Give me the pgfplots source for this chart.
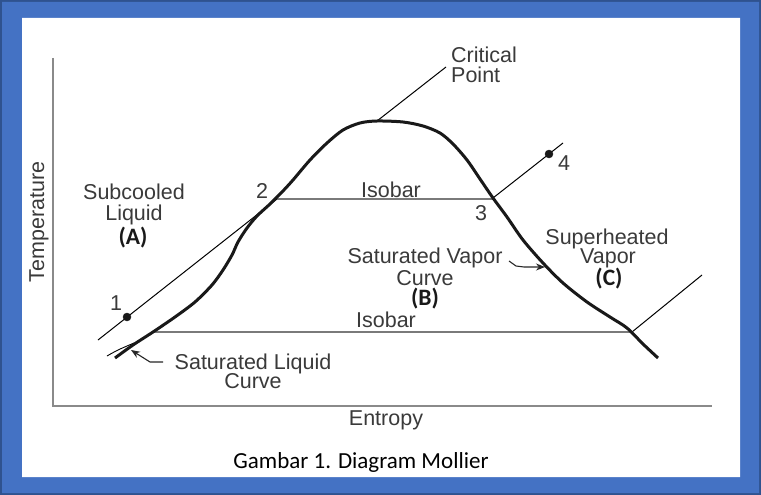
\documentclass[border=0pt]{standalone}
\usepackage{pgfplots}
\pgfplotsset{compat=1.18}
\usetikzlibrary{arrows.meta}
\usepackage{fontspec}
\setmainfont{Liberation Sans}
\newfontfamily\calibri{Carlito}
\definecolor{bordblue}{HTML}{4472C4}
\definecolor{bordedge}{HTML}{2F528F}
\definecolor{txt}{HTML}{3A3A3A}
\definecolor{thin}{HTML}{858585}
\definecolor{isob}{HTML}{7A7A7A}
\definecolor{axgray}{HTML}{8A8A8A}
\tikzset{
  lab/.style={anchor=base, inner sep=0pt, text=txt, font=\fontsize{21.5}{24}\selectfont},
  bl/.style={anchor=base, inner sep=0pt, text=black!90, font=\calibri\bfseries\fontsize{23.5}{26}\selectfont},
}
\begin{document}
\begin{tikzpicture}
\begin{axis}[
  scale only axis, width=761pt, height=495pt,
  xmin=0, xmax=761, ymin=0, ymax=495, y dir=reverse,
  axis lines=none, clip=true,
]
% frame
\addplot[fill=bordedge, draw=none] coordinates {(0,0)(761,0)(761,495)(0,495)(0,0)};
\addplot[fill=bordblue, draw=none] coordinates {(2,2)(759,2)(759,493)(2,493)(2,2)};
\addplot[fill=white, draw=none] coordinates {(22,18)(740,18)(740,477)(22,477)(22,18)};
% axes
\addplot[axgray, line width=1.5pt] coordinates {(53,58)(53,406)(712,406)};
% thin lines
\addplot[thin, line width=1.0pt] coordinates {(377,121)(446,67)};
\addplot[thin, line width=1.0pt] coordinates {(493,198)(563,143)};
\addplot[thin, line width=1.0pt] coordinates {(98,340)(277,199)};
\addplot[thin, line width=1.0pt] coordinates {(632,332)(702,275)};
\addplot[thin, line width=0.9pt, smooth] coordinates {(107,356)(118,350)(134,343)};
% isobars
\addplot[isob, line width=1.4pt] coordinates {(277,199)(493,199)};
\addplot[isob, line width=1.4pt] coordinates {(152,332)(632,332)};
% saturation dome
\addplot[black!90, line width=3pt, smooth] coordinates {
 (115,358)(133,345)(153,332)(175,317)(195,302)(212,285)(223,270)(232,255)
 (238,242)(247,228)(257,216)(270,204)(282,192)(293,180)(310,160)(327,143)(343,130)
 (360,123)(377,121)(403,122)(423,126)(440,133)(453,144)(467,160)(480,179)
 (493,198)(507,217)(523,240)(543,263)(563,283)(587,302)(610,317)(627,328)
 (643,344)(658,358)};
% points
\addplot[only marks, mark=*, mark size=4pt, black!90] coordinates {(127,317)(549,154)};
% arrows
\addplot[black!85, line width=1.1pt, -{Stealth[length=9pt,width=7pt]}] coordinates {(163,362)(150,362)(131,350)};
\addplot[black!85, line width=1.1pt, -{Stealth[length=9pt,width=7pt]}] coordinates {(509,261)(516,266)(524,267)(545,267)};
% labels
\node[lab, anchor=base west] at (axis cs:451,63) {Critical};
\node[lab, anchor=base west] at (axis cs:451,83) {Point};
\node[lab] at (axis cs:564,170) {4};
\node[lab] at (axis cs:391,197) {Isobar};
\node[lab] at (axis cs:481,220) {3};
\node[lab] at (axis cs:262,198) {2};
\node[lab] at (axis cs:116,310) {1};
\node[lab] at (axis cs:386,327) {Isobar};
\node[lab] at (axis cs:134,199) {Subcooled};
\node[lab] at (axis cs:134,220) {Liquid};
\node[bl] at (axis cs:133,244) {(A)};
\node[lab] at (axis cs:425,263) {Saturated Vapor};
\node[lab] at (axis cs:425,285) {Curve};
\node[bl] at (axis cs:425,305) {(B)};
\node[lab] at (axis cs:607,244) {Superheated};
\node[lab] at (axis cs:608,263) {Vapor};
\node[bl] at (axis cs:609,285) {(C)};
\node[lab] at (axis cs:253,369) {Saturated Liquid};
\node[lab] at (axis cs:253,388) {Curve};
\node[lab] at (axis cs:386,425) {Entropy};
\node[text=txt, inner sep=0pt, font=\fontsize{21.5}{24}\selectfont, rotate=90] at (axis cs:39,222) {Temperature};
\node[anchor=base, inner sep=0pt, text=black, font=\calibri\fontsize{23}{26}\selectfont] at (axis cs:361,468) {Gambar 1. Diagram Mollier};
\end{axis}
\end{tikzpicture}
\end{document}
